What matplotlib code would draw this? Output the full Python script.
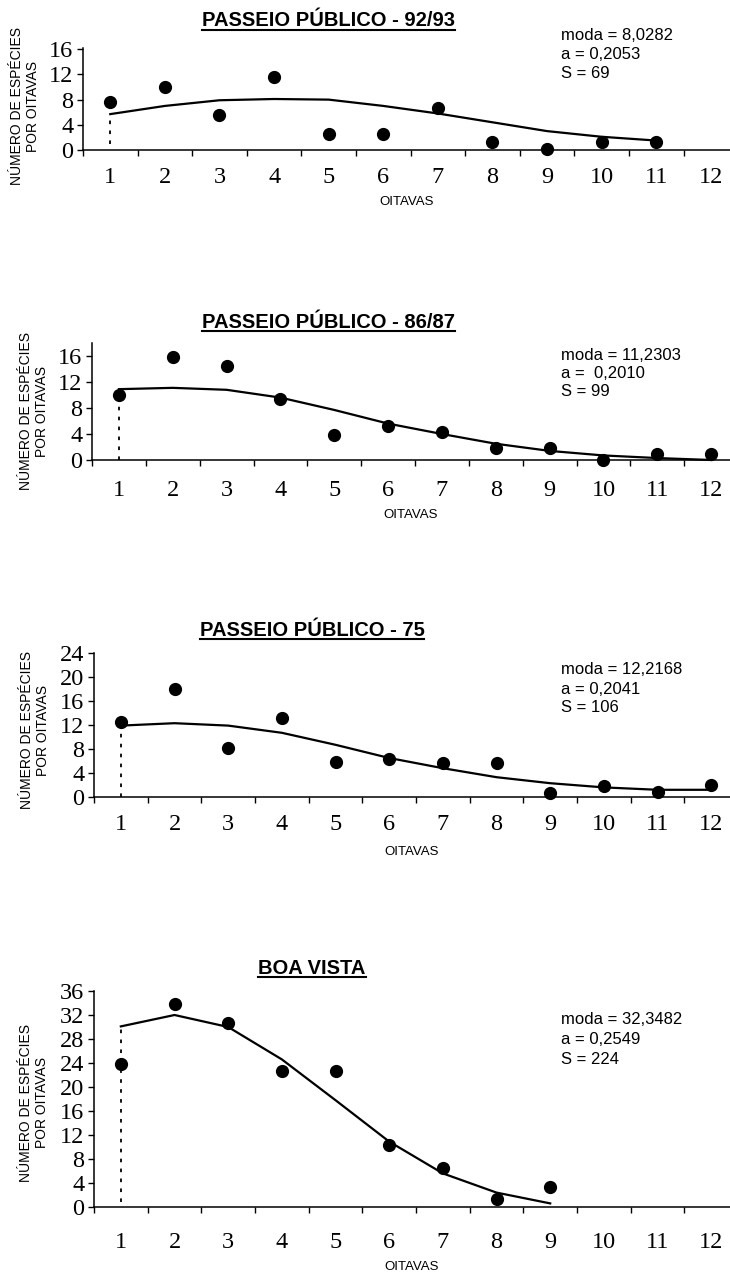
import matplotlib
matplotlib.use("Agg")
import matplotlib.pyplot as plt
from matplotlib.transforms import offset_copy, IdentityTransform
from matplotlib.lines import Line2D

W, H = 730, 1274

oitavas = list(range(1, 13))

titles = ["PASSEIO PÚBLICO - 92/93", "PASSEIO PÚBLICO - 86/87",
          "PASSEIO PÚBLICO - 75", "BOA VISTA"]

notes = [["moda = 8,0282", "a = 0,2053", "S = 69"],
         ["moda = 11,2303", "a =  0,2010", "S = 99"],
         ["moda = 12,2168", "a = 0,2041", "S = 106"],
         ["moda = 32,3482", "a = 0,2549", "S = 224"]]

# observed species per octave (points)
obs_9293 = [7.6, 10.0, 5.6, 11.6, 2.6, 2.6, 6.7, 1.2, 0.2, 1.2, 1.3]
obs_8687 = [10.0, 15.9, 14.4, 9.4, 3.9, 5.3, 4.3, 1.8, 1.8, 0.0, 0.9, 0.9]
obs_75 = [12.5, 18.0, 8.2, 13.2, 5.8, 6.3, 5.6, 5.7, 0.7, 1.8, 0.8, 2.0]
obs_bv = [23.8, 33.8, 30.7, 22.6, 22.6, 10.4, 6.5, 1.4, 3.4]

# fitted lognormal curve (line)
fit_9293 = [5.7, 7.0, 7.9, 8.1, 8.0, 7.0, 5.8, 4.4, 3.0, 2.1, 1.5]
fit_8687 = [10.9, 11.1, 10.8, 9.6, 7.7, 5.6, 4.0, 2.5, 1.4, 0.7, 0.3, 0.0]
fit_75 = [11.9, 12.3, 11.9, 10.7, 8.7, 6.5, 4.8, 3.3, 2.3, 1.6, 1.2, 1.2]
fit_bv = [30.1, 32.0, 30.0, 24.6, 17.8, 10.9, 5.6, 2.4, 0.6]

dot_bottom = [1.0, 0.0, 0.0, 0.9]

observed = [obs_9293, obs_8687, obs_75, obs_bv]
fitted = [fit_9293, fit_8687, fit_75, fit_bv]
yticks = [[0, 4, 8, 12, 16], [0, 4, 8, 12, 16],
          [0, 4, 8, 12, 16, 20, 24], [0, 4, 8, 12, 16, 20, 24, 28, 32, 36]]
ytop = [16.2, 18, 24, 36]

# layout in pixels: left spine x, zero line y, top of y axis y
lefts = [83, 92, 94, 94]
zeros = [150, 460, 797, 1207]
tops = [48, 343, 653, 991]
title_pos = [(328, 21), (328, 322), (312, 630), (312, 968)]
note_y = [35.5, 355, 670, 1020]
note_step = [19, 18.5, 19, 20]
ylab_pos = [(25, 106), (34, 411), (35, 730), (34, 1103)]
xlab_off = [52, 55, 55, 60]
xtick_pad = [12, 14.5, 12.5, 18]

fig = plt.figure(figsize=(W / 100, H / 100), dpi=100)
title_texts = []

for i in range(4):
    rect = [lefts[i] / W, (H - zeros[i]) / H, (W - lefts[i]) / W,
            (zeros[i] - tops[i]) / H]
    ax = fig.add_axes(rect)
    obs = observed[i]
    fit = fitted[i]
    ax.plot(oitavas[:len(fit)], fit, color="black", lw=1.6, clip_on=False,
            zorder=3)
    ax.plot(oitavas[:len(obs)], obs, "o", color="black", ms=8.5,
            clip_on=False, zorder=4)
    ax.plot([1, 1], [dot_bottom[i], fit[0]], color="black", lw=1.3,
            linestyle=(0, (2, 3.5)), clip_on=False)

    ax.set_xlim(0.5, 12.35)
    ax.set_ylim(0, ytop[i])
    ax.set_xticks(oitavas)
    ax.set_xticks([k + 0.5 for k in range(0, 12)], minor=True)
    ax.set_yticks(yticks[i])
    ax.tick_params(axis="x", which="major", length=0, pad=xtick_pad[i],
                   labelsize=17.5)
    ax.tick_params(axis="x", which="minor", length=4, width=1,
                   direction="out")
    ax.tick_params(axis="y", length=4, width=1, pad=3, labelsize=17.5)
    for lab in ax.get_xticklabels() + ax.get_yticklabels():
        lab.set_fontfamily("Liberation Serif")
    for s in ["top", "right"]:
        ax.spines[s].set_visible(False)
    ax.spines["left"].set_linewidth(1.1)
    ax.spines["bottom"].set_linewidth(1.1)
    ax.patch.set_visible(False)

    tr = offset_copy(ax.transAxes, fig=fig, y=-xlab_off[i], units="dots")
    ax.text(0.5, 0, "OITAVAS", transform=tr, ha="center", va="center",
            fontsize=9.5, family="Liberation Sans")

    tx, ty = title_pos[i]
    t = fig.text(tx / W, 1 - ty / H, titles[i], ha="center", va="center",
                 fontsize=14.5, fontweight="bold", family="Liberation Sans")
    title_texts.append(t)

    for j, line in enumerate(notes[i]):
        fig.text(561 / W, 1 - (note_y[i] + j * note_step[i]) / H, line,
                 ha="left", va="center", fontsize=12,
                 family="Liberation Sans")

    lx, ly = ylab_pos[i]
    fig.text(lx / W, 1 - ly / H, "NÚMERO DE ESPÉCIES\nPOR OITAVAS",
             rotation=90, ha="center", va="center", fontsize=10,
             multialignment="center", linespacing=1.2,
             family="Liberation Sans")

# underline the titles
fig.canvas.draw()
rend = fig.canvas.get_renderer()
for t in title_texts:
    bb = t.get_window_extent(rend)
    fig.add_artist(Line2D([bb.x0, bb.x1], [bb.y0 + 1, bb.y0 + 1],
                          transform=IdentityTransform(), color="black",
                          lw=1.5))

fig.savefig("out.png", dpi=100)
